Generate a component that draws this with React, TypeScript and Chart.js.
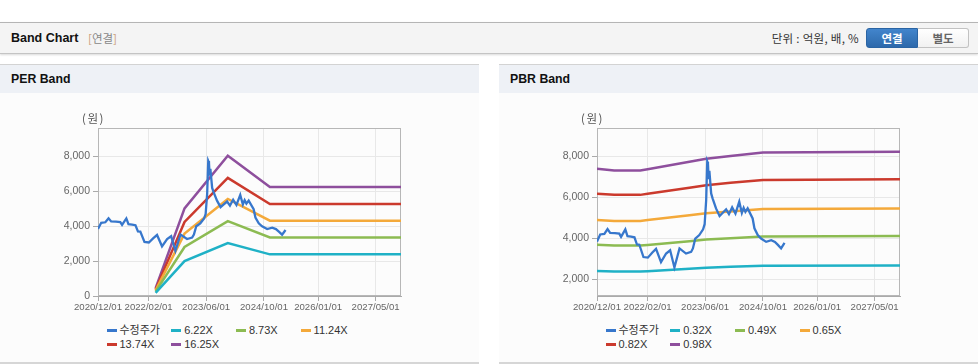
import React, { useEffect, useRef } from "react";
import Chart from "chart.js/auto";

// ---------- data ----------
const xStart = "2020/12/01";
const xEnd = "2027/12/01";
const xTickDates = ["2020/12/01", "2022/02/01", "2023/06/01", "2024/10/01", "2026/01/01", "2027/05/01"];

const priceLabel = "수정주가";
const priceDates = [
  "2020-12-01", "2020-12-28", "2021-02-01", "2021-02-28", "2021-03-22", "2021-05-01", "2021-06-07", "2021-06-22",
  "2021-07-28", "2021-08-15", "2021-09-15", "2021-10-13", "2021-11-03", "2021-11-23", "2021-12-28", "2022-02-03",
  "2022-03-13", "2022-04-13", "2022-05-25", "2022-07-07", "2022-08-10", "2022-09-15", "2022-10-28", "2022-12-22",
  "2023-02-03", "2023-02-18", "2023-03-10", "2023-04-13", "2023-05-15", "2023-05-28", "2023-06-10", "2023-06-19",
  "2023-06-25", "2023-07-01", "2023-07-07", "2023-07-22", "2023-08-03", "2023-09-01", "2023-10-01", "2023-10-28",
  "2023-11-25", "2023-12-19", "2024-01-15", "2024-02-12", "2024-03-15", "2024-04-06", "2024-04-21", "2024-05-06",
  "2024-05-25", "2024-07-06", "2024-07-21", "2024-08-18", "2024-09-15", "2024-10-28", "2024-12-10", "2025-01-10",
  "2025-02-06", "2025-03-03", "2025-04-01",
];
const priceValues = [
  3850, 4200, 4230, 4460, 4280, 4270, 4240, 4080,
  4450, 4120, 4100, 4060, 3710, 3700, 3100, 3070,
  3320, 3500, 2850, 3270, 3430, 2590, 3520, 3270,
  3350, 3520, 4000, 4170, 4450, 4700, 5880, 7750,
  7650, 6900, 7300, 6200, 5960, 5470, 5100, 5260,
  5420, 5190, 5520, 5220, 5800, 5250, 5500, 5300,
  5470, 4980, 4500, 4170, 4000, 3840, 3920, 3840,
  3680, 3520, 3790,
];

const perBandDates = ["2022-04-01", "2022-12-01", "2023-12-01", "2024-11-20", "2027-12-01"];
const perBandLabels = ["6.22X", "8.73X", "11.24X", "13.74X", "16.25X"];
const per622 = [180, 2000, 3040, 2390, 2390];
const per873 = [250, 2810, 4300, 3360, 3360];
const per1124 = [320, 3580, 5570, 4320, 4320];
const per1374 = [380, 4250, 6780, 5280, 5280];
const per1625 = [450, 5030, 8050, 6250, 6250];
const perYTicks = [0, 2000, 4000, 6000, 8000];
const perYMin = 0;
const perYMax = 9640;

const pbrBandDates = ["2020-12-01", "2021-04-25", "2021-12-01", "2022-02-01", "2023-01-20", "2023-06-10", "2024-01-01", "2024-10-01", "2027-12-01"];
const pbrBandLabels = ["0.32X", "0.49X", "0.65X", "0.82X", "0.98X"];
const pbr032 = [2420, 2390, 2390, 2410, 2530, 2580, 2620, 2680, 2690];
const pbr049 = [3700, 3660, 3660, 3690, 3870, 3950, 4010, 4100, 4120];
const pbr065 = [4910, 4860, 4860, 4900, 5140, 5230, 5320, 5440, 5460];
const pbr082 = [6190, 6130, 6130, 6180, 6480, 6600, 6720, 6860, 6890];
const pbr098 = [7400, 7320, 7320, 7380, 7740, 7890, 8030, 8200, 8230];
const pbrYTicks = [2000, 4000, 6000, 8000];
const pbrYMin = 1200;
const pbrYMax = 9390;

// ---------- styles ----------
const priceColor = "#3777cc";
const bandColors = ["#1fb1c6", "#8cbb52", "#f4a93a", "#cb3a2d", "#8e4f9d"];
const FONT = 'Arial, "Liberation Sans", "Noto Sans CJK KR", sans-serif';
const KFONT = '"Noto Sans CJK KR", Arial, sans-serif';

const ts = (s: string) => {
  const [y, m, d] = s.split(/[-/]/).map(Number);
  return Date.UTC(y, m - 1, d);
};
const fmtDate = (v: number) => {
  const dt = new Date(v);
  return `${dt.getUTCFullYear()}/${String(dt.getUTCMonth() + 1).padStart(2, "0")}/${String(dt.getUTCDate()).padStart(2, "0")}`;
};

const boxPlugin = {
  id: "plotBox",
  beforeDatasetsDraw(chart: any) {
    const { ctx, chartArea } = chart;
    const l = Math.round(chartArea.left) + 0.5;
    const t = Math.round(chartArea.top) + 0.5;
    const r = Math.round(chartArea.right) - 0.5;
    const b = Math.round(chartArea.bottom) - 0.5;
    ctx.save();
    ctx.strokeStyle = "#b7b7b7";
    ctx.lineWidth = 1;
    ctx.strokeRect(l, t, r - l, b - t);
    ctx.restore();
  },
};

type BandProps = {
  left: number;
  title: string;
  bandDates: string[];
  bandSeries: number[][];
  bandLabels: string[];
  yTicks: number[];
  yMin: number;
  yMax: number;
};

const PANEL_W = 479;
const CANVAS_H = 227;

function BandPanel(props: BandProps) {
  const ref = useRef<HTMLCanvasElement>(null);
  useEffect(() => {
    if (!ref.current) return;
    const datasets: any[] = [
      {
        label: priceLabel,
        data: priceDates.map((d, i) => ({ x: ts(d), y: priceValues[i] })),
        borderColor: priceColor,
        backgroundColor: priceColor,
        borderWidth: 2.3,
        pointRadius: 0,
        tension: 0,
        fill: false,
      },
      ...props.bandSeries.map((vals, k) => ({
        label: props.bandLabels[k],
        data: props.bandDates.map((d, i) => ({ x: ts(d), y: vals[i] })),
        borderColor: bandColors[k],
        backgroundColor: bandColors[k],
        borderWidth: 2.5,
        pointRadius: 0,
        tension: 0,
        fill: false,
      })),
    ];
    const chart = new Chart(ref.current, {
      type: "line",
      data: { datasets },
      plugins: [boxPlugin],
      options: {
        animation: false,
        responsive: false,
        maintainAspectRatio: false,
        events: [],
        layout: { padding: { top: 35, right: 78, left: 0, bottom: 0 } },
        plugins: { legend: { display: false }, tooltip: { enabled: false } },
        scales: {
          x: {
            type: "linear",
            min: ts(xStart),
            max: ts(xEnd),
            afterBuildTicks: (s: any) => {
              s.ticks = xTickDates.map((d) => ({ value: ts(d) }));
            },
            afterFit: (s: any) => {
              s.height = 24;
            },
            ticks: {
              autoSkip: false,
              maxRotation: 0,
              padding: 1,
              color: "#666",
              font: { family: FONT, size: 9.6 },
              callback: (v: any) => fmtDate(Number(v)),
            },
            grid: { color: "#e8e8e8", tickColor: "#aaa", tickLength: 5, drawTicks: true },
            border: { color: "#aaa" },
          },
          y: {
            type: "linear",
            min: props.yMin,
            max: props.yMax,
            afterBuildTicks: (s: any) => {
              s.ticks = props.yTicks.map((v) => ({ value: v }));
            },
            afterFit: (s: any) => {
              s.width = 98;
            },
            ticks: {
              padding: 3,
              color: "#666",
              font: { family: FONT, size: 10.5 },
              callback: (v: any) => Number(v).toLocaleString("en-US"),
            },
            grid: { color: "#e8e8e8", tickColor: "#aaa", tickLength: 5, drawTicks: true },
            border: { color: "#aaa" },
          },
        },
      } as any,
    });
    return () => chart.destroy();
  }, []);

  const legendItems = [
    { label: priceLabel, color: priceColor },
    ...props.bandLabels.map((l, k) => ({ label: l, color: bandColors[k] })),
  ];

  return (
    <div style={{ position: "absolute", left: props.left, top: 64, width: PANEL_W, height: 300 }}>
      <div
        style={{
          position: "absolute",
          left: 0,
          top: 0,
          width: PANEL_W,
          height: 28,
          borderTop: "1px solid #d3d3d3",
          background: "#eef1f6",
        }}
      >
        <span
          style={{
            position: "absolute",
            left: 11,
            top: 0,
            lineHeight: "28px",
            fontFamily: FONT,
            fontWeight: "bold",
            fontSize: 12.3,
            color: "#111",
          }}
        >
          {props.title}
        </span>
      </div>
      <div style={{ position: "absolute", left: 0, top: 29, width: PANEL_W, height: 269, background: "#fcfcfc" }} />
      <canvas
        ref={ref}
        width={PANEL_W}
        height={CANVAS_H}
        style={{ position: "absolute", left: 0, top: 29, width: PANEL_W, height: CANVAS_H }}
      />
      <span
        style={{
          position: "absolute",
          left: 82,
          top: 46,
          fontFamily: KFONT,
          fontSize: 11.5,
          letterSpacing: 1.5,
          lineHeight: "16px",
          color: "#555",
          whiteSpace: "nowrap",
        }}
      >
        (원)
      </span>
      {legendItems.map((it, i) => {
        const col = i % 4;
        const row = Math.floor(i / 4);
        return (
          <div
            key={it.label}
            style={{
              position: "absolute",
              left: 106.5 + col * 64.7,
              top: 259 + row * 14,
              height: 14,
              display: "flex",
              alignItems: "center",
              whiteSpace: "nowrap",
            }}
          >
            <span style={{ display: "inline-block", width: 10, height: 3, background: it.color }} />
            <span style={{ marginLeft: 3, fontFamily: FONT, fontSize: 11, color: "#333", lineHeight: "14px" }}>
              {it.label}
            </span>
          </div>
        );
      })}
      <div style={{ position: "absolute", left: 0, top: 298, width: PANEL_W, height: 2, background: "#d6d6d6" }} />
    </div>
  );
}

export default function App() {
  return (
    <div
      style={{
        position: "absolute",
        left: 0,
        top: 0,
        width: 978,
        height: 364,
        background: "#ffffff",
        overflow: "hidden",
        fontFamily: FONT,
      }}
    >
      <div
        style={{
          position: "absolute",
          left: 0,
          top: 22,
          width: 978,
          height: 30,
          borderTop: "1px solid #b5b5b5",
          borderBottom: "1px solid #c4c4c4",
          background: "#f4f4f4",
          boxShadow: "0 1px 2px rgba(0,0,0,0.15)",
        }}
      >
        <span
          style={{
            position: "absolute",
            left: 11,
            top: 0,
            lineHeight: "30px",
            fontWeight: "bold",
            fontSize: 12.5,
            color: "#111",
            fontFamily: FONT,
          }}
        >
          Band Chart
        </span>
        <span
          style={{
            position: "absolute",
            left: 88,
            top: 0,
            lineHeight: "30px",
            fontSize: 11.5,
            color: "#888",
            fontFamily: KFONT,
          }}
        >
          <span style={{ color: "#c9a07a" }}>[</span>연결<span style={{ color: "#c9a07a" }}>]</span>
        </span>
        <span
          style={{
            position: "absolute",
            right: 119,
            top: 0,
            lineHeight: "30px",
            fontSize: 11.5,
            color: "#333",
            fontFamily: KFONT,
            whiteSpace: "nowrap",
            letterSpacing: 0.3,
          }}
        >
          단위 : 억원, 배, %
        </span>
        <div
          style={{
            position: "absolute",
            left: 866,
            top: 5,
            width: 52,
            height: 20,
            boxSizing: "border-box",
            background: "linear-gradient(#4285cc, #2d69ab)",
            border: "1px solid #2a64a3",
            borderRadius: "3px 0 0 3px",
            color: "#fff",
            fontWeight: "bold",
            fontSize: 11.5,
            fontFamily: KFONT,
            textAlign: "center",
            lineHeight: "18px",
          }}
        >
          연결
        </div>
        <div
          style={{
            position: "absolute",
            left: 918,
            top: 5,
            width: 51,
            height: 20,
            boxSizing: "border-box",
            background: "linear-gradient(#ffffff, #f1f1f1)",
            border: "1px solid #c2c2c2",
            borderLeft: "none",
            borderRadius: "0 3px 3px 0",
            color: "#666",
            fontWeight: "bold",
            fontSize: 11.5,
            fontFamily: KFONT,
            textAlign: "center",
            lineHeight: "18px",
          }}
        >
          별도
        </div>
      </div>
      <BandPanel
        left={0}
        title="PER Band"
        bandDates={perBandDates}
        bandSeries={[per622, per873, per1124, per1374, per1625]}
        bandLabels={perBandLabels}
        yTicks={perYTicks}
        yMin={perYMin}
        yMax={perYMax}
      />
      <BandPanel
        left={499}
        title="PBR Band"
        bandDates={pbrBandDates}
        bandSeries={[pbr032, pbr049, pbr065, pbr082, pbr098]}
        bandLabels={pbrBandLabels}
        yTicks={pbrYTicks}
        yMin={pbrYMin}
        yMax={pbrYMax}
      />
    </div>
  );
}
